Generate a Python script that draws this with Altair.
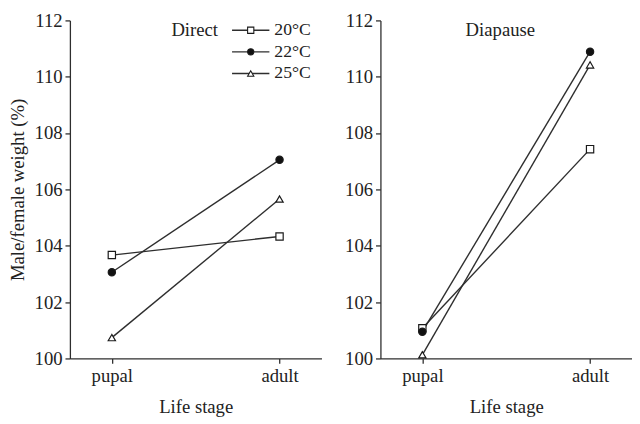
import altair as alt
import pandas as pd

stages = ["pupal", "adult"]
temps = ["20°C", "22°C", "25°C"]
panels = ["Direct", "Diapause"]

direct_20 = [103.67, 104.33]
direct_22 = [103.06, 107.05]
direct_25 = [100.74, 105.66]
diapause_20 = [101.07, 107.43]
diapause_22 = [100.95, 110.89]
diapause_25 = [100.13, 110.42]

series = {
    "Direct": [direct_20, direct_22, direct_25],
    "Diapause": [diapause_20, diapause_22, diapause_25],
}

rows = []
for p in panels:
    for t, vals in zip(temps, series[p]):
        for s, v in zip(stages, vals):
            rows.append({"panel": p, "temp": t, "stage": s, "value": v})
df = pd.DataFrame(rows)
legend_df = pd.DataFrame({"temp": temps})

FONT = "Liberation Serif"
FS = 19
INK = "#222222"
LINE = "#2e2e2e"
W, H = 256, 344

shapes = ["square", "circle", "triangle-up"]
fills = ["white", "#111111", "white"]

shape_enc = alt.Shape("temp:N", scale=alt.Scale(domain=temps, range=shapes), legend=None)
fill_enc = alt.Fill("temp:N", scale=alt.Scale(domain=temps, range=fills), legend=None)


def axis_common(**kw):
    return dict(grid=False, domainColor=LINE, tickColor=LINE, domainWidth=1.3,
                tickWidth=1.3, labelFont=FONT, titleFont=FONT, labelFontSize=FS,
                titleFontSize=FS, labelColor=INK, titleColor=INK,
                titleFontWeight="normal", tickSize=5, **kw)


def panel(name, first):
    d = df[df.panel == name]
    base = alt.Chart(d)
    x = alt.X("stage:N",
              scale=alt.Scale(type="point", domain=stages, padding=0.25),
              axis=alt.Axis(title="Life stage", labelAngle=0,
                            **axis_common(labelPadding=3, titlePadding=13)))
    yargs = axis_common(labelPadding=3, titlePadding=7,
                        values=[100, 102, 104, 106, 108, 110, 112])
    y = alt.Y("value:Q",
              scale=alt.Scale(domain=[100, 112], nice=False, zero=False),
              axis=alt.Axis(title="Male/female weight (%)", **yargs) if first
              else alt.Axis(title=None, **yargs))
    lines = base.mark_line(color=LINE, strokeWidth=1.4).encode(
        x=x, y=y, detail="temp:N")
    pts = base.mark_point(filled=True, stroke="#1a1a1a", strokeWidth=1.2,
                          size=55, opacity=1).encode(
        x=x, y=y, shape=shape_enc, fill=fill_enc)
    label = alt.Chart(pd.DataFrame({"t": [name]})).mark_text(
        font=FONT, fontSize=FS, color=INK, baseline="middle", align="center"
    ).encode(text="t:N", x=alt.value(W / 2 - 1 if first else W / 2 - 6), y=alt.value(10))
    layers = [lines, pts, label]
    if first:
        ly = alt.Y("temp:N", scale=alt.Scale(type="point", domain=temps,
                                             range=[10, 54], padding=0), axis=None)
        lrule = alt.Chart(legend_df).mark_rule(color=LINE, strokeWidth=1.4).encode(
            x=alt.value(165), x2=alt.value(203), y=ly)
        lpts = alt.Chart(legend_df).mark_point(filled=True, stroke="#1a1a1a",
                                                strokeWidth=1.1, size=40, opacity=1).encode(
            x=alt.value(184), y=ly, shape=shape_enc, fill=fill_enc)
        ltxt = alt.Chart(legend_df).mark_text(font=FONT, fontSize=FS - 1, color=INK,
                                              align="left", baseline="middle").encode(
            x=alt.value(208), y=ly, text="temp:N")
        legend = alt.layer(lrule, lpts, ltxt)
        ch = alt.layer(alt.layer(*layers), legend).resolve_scale(y="independent")
    else:
        ch = alt.layer(*layers)
    return ch.properties(width=W, height=H)


chart = alt.hconcat(panel("Direct", True), panel("Diapause", False), spacing=23).properties(
    padding={"left": 0, "top": 0, "right": 0, "bottom": 0}, background="white"
).configure(font=FONT).configure_view(stroke=None).configure_axis(
    labelFont=FONT, titleFont=FONT, titleFontWeight="normal"
)

chart.save("out.html", embed_options={"renderer": "svg", "actions": False})
